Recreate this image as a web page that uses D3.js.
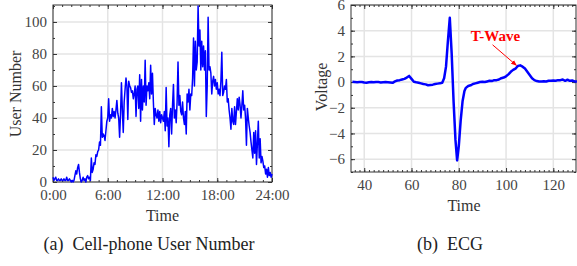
<html>
<head>
<meta charset="utf-8">
<title>Cell-phone users and ECG</title>
<script src="https://d3js.org/d3.v7.min.js"></script>
<style>
  body { margin: 0; background: #fff; }
  svg text { font-family: "Liberation Serif", "Times New Roman", serif; }
</style>
</head>
<body>
<svg id="chart" width="577" height="266"></svg>
<script>
// user count, one value every 0.1 hour from 0:00 to 24:00
const userCounts = [
  3, 1, 2, 3, 1, 1, 2, 1, 1, 2,
  1, 1, 2, 1, 1, 3, 1, 1, 2, 1,
  0, 1, 0, 1, 4, 7, 5, 9, 11, 6,
  2, 0, 1, 3, 1, 2, 0, 3, 4, 2,
  3, 1, 15, 6, 8, 12, 11, 17, 16, 19,
  20, 25, 23, 47, 28, 30, 29, 26, 32, 38,
  40, 52, 38, 42, 40, 46, 41, 44, 40, 45,
  51, 43, 40, 28, 42, 62, 45, 31, 50, 58,
  65, 60, 39, 63, 60, 59, 56, 57, 52, 55,
  60, 41, 58, 60, 46, 67, 38, 64, 45, 60,
  50, 76, 48, 60, 57, 62, 52, 73, 55, 68,
  50, 36, 46, 42, 40, 45, 38, 44, 37, 42,
  40, 38, 44, 32, 59, 35, 40, 22, 42, 46,
  30, 48, 61, 40, 45, 37, 50, 75, 48, 54,
  44, 42, 50, 40, 36, 44, 30, 55, 50, 58,
  45, 55, 54, 65, 90, 60, 88, 70, 75, 110,
  85, 95, 70, 88, 72, 85, 70, 82, 41, 60,
  103, 70, 72, 68, 55, 63, 66, 60, 64, 58,
  62, 55, 58, 54, 63, 81, 54, 56, 60, 58,
  64, 50, 52, 45, 40, 33, 46, 38, 36, 47,
  36, 44, 52, 45, 53, 48, 40, 48, 57, 45,
  48, 40, 23, 46, 40, 35, 31, 25, 20, 15,
  31, 18, 32, 11, 24, 38, 15, 27, 12, 16,
  13, 9, 10, 5, 8, 3, 9, 4, 6, 3,
  5
];
const hourTicks = [0, 6, 12, 18, 24];
const hourLabels = ["0:00", "6:00", "12:00", "18:00", "24:00"];
const userTicks = [0, 20, 40, 60, 80, 100];

// ecg samples
const ecgTime = [
  35, 36, 37, 38, 39, 40, 41, 42, 43, 44, 45, 46, 47, 48, 49, 50, 51, 52,
  53, 54, 55, 56, 57, 58, 59, 60, 61, 62, 63, 64, 65, 66, 67, 68, 69, 70,
  71, 72, 73, 73.8, 74.6, 75.4, 76.2, 77, 77.8, 78.6, 79.3, 80, 80.8, 81.6,
  82.4, 83, 84, 85, 86, 87, 88, 89, 90, 91, 92, 93, 94, 95, 96, 97, 98, 99,
  100, 101, 102, 103, 104, 105, 106, 107, 108, 109, 110, 111, 112, 113, 114,
  115, 116, 117, 118, 119, 120, 121, 122, 123, 124, 125, 126, 127, 128, 129, 130
];
const ecgVolt = [
  0.02, 0, -0.02, 0, 0.01, -0.03, -0.05, -0.02, 0, -0.02, 0.01, 0, -0.03, -0.01, 0, -0.02, -0.04, -0.06,
  0.05, 0.12, 0.15, 0.2, 0.25, 0.35, 0.48, 0.25, 0.02, -0.02, -0.05, -0.1, -0.15, -0.18, -0.25, -0.22, -0.2, -0.15,
  -0.12, -0.1, -0.05, 0.3, 1.2, 3.2, 5.0, 2.2, -1.5, -4.5, -6.1, -5.0, -3.0, -1.5,
  -0.7, -0.45, -0.3, -0.25, -0.15, -0.1, -0.05, 0, 0.02, 0, 0.05, 0.1, 0.08, 0.15, 0.15, 0.2, 0.3, 0.35,
  0.45, 0.6, 0.8, 0.95, 1.05, 1.25, 1.3, 1.2, 1.05, 0.8, 0.55, 0.3, 0.15, 0.08, 0.05,
  0.05, 0.07, 0.05, 0.1, 0.1, 0.12, 0.1, 0.15, 0.15, 0.2, 0.1, 0.18, 0.1, 0.12, 0.05, 0.05
];
const timeTicks = [40, 60, 80, 100, 120];
const voltTicks = [-6, -4, -2, 0, 2, 4, 6];

const svg = d3.select("#chart");

// frame with inward ticks on four sides, light grid at major ticks
function drawFrame(g, x, y, xMajor, xMinor, yMajor, yMinor, xFormat) {
  const [x0, x1] = x.range();
  const [y1, y0] = y.range();

  g.append("g").selectAll("line").data(xMajor).join("line")
    .attr("x1", d => x(d)).attr("x2", d => x(d)).attr("y1", y0).attr("y2", y1)
    .attr("stroke", "#e4e4e4").attr("stroke-width", 1.5);
  g.append("g").selectAll("line").data(yMajor).join("line")
    .attr("y1", d => y(d)).attr("y2", d => y(d)).attr("x1", x0).attr("x2", x1)
    .attr("stroke", "#e4e4e4").attr("stroke-width", 1.5);

  const sides = [
    [d3.axisBottom, y1, x, xMajor, xMinor, xFormat],
    [d3.axisTop, y0, x, xMajor, xMinor, () => ""],
    [d3.axisLeft, x0, y, yMajor, yMinor, d3.format("d")],
    [d3.axisRight, x1, y, yMajor, yMinor, () => ""]
  ];
  sides.forEach(([axisFn, pos, scale, major, minor, fmt]) => {
    const vertical = axisFn === d3.axisLeft || axisFn === d3.axisRight;
    const tr = vertical ? `translate(${pos},0)` : `translate(0,${pos})`;
    g.append("g").attr("transform", tr)
      .call(axisFn(scale).tickValues(minor).tickSize(-2).tickFormat(""))
      .call(a => a.select(".domain").remove())
      .selectAll("line").attr("stroke", "#333");
    const ax = g.append("g").attr("transform", tr)
      .call(axisFn(scale).tickValues(major).tickSize(-4).tickPadding(vertical ? 6 : 7).tickFormat(fmt));
    ax.select(".domain").remove();
    ax.selectAll("line").attr("stroke", "#333");
    ax.selectAll("text").attr("fill", "#444").style("font-size", "15px")
      .style("font-family", "'Liberation Serif', serif");
  });

  g.append("rect").attr("x", x0).attr("y", y0)
    .attr("width", x1 - x0).attr("height", y1 - y0)
    .attr("fill", "none").attr("stroke", "#333").attr("stroke-width", 1);
}

// ---- (a) cell-phone users ----
const xa = d3.scaleLinear().domain([0, 24]).range([53, 272]);
const ya = d3.scaleLinear().domain([0, 110.6]).range([182, 5]);
const ga = svg.append("g");
drawFrame(ga, xa, ya, hourTicks, d3.range(0, 25, 1), userTicks, d3.range(0, 111, 10),
  d => hourLabels[hourTicks.indexOf(d)]);

ga.append("path")
  .datum(userCounts)
  .attr("fill", "none").attr("stroke", "#0000ff").attr("stroke-width", 1.5)
  .attr("stroke-linejoin", "round")
  .attr("d", d3.line().x((d, i) => xa(i * 0.1)).y(d => ya(d)));

ga.append("text").attr("x", 162.5).attr("y", 221).attr("text-anchor", "middle")
  .attr("fill", "#333").style("font-size", "16px").text("Time");
ga.append("text").attr("transform", "translate(21,94) rotate(-90)").attr("text-anchor", "middle")
  .attr("fill", "#333").style("font-size", "16px").text("User Number");
svg.append("text").attr("x", 149).attr("y", 250).attr("text-anchor", "middle")
  .attr("fill", "#222").style("font-size", "18px").attr("xml:space", "preserve")
  .text("(a)  Cell-phone User Number");

// ---- (b) ECG ----
const xb = d3.scaleLinear().domain([34.4, 129.6]).range([351, 576]);
const yb = d3.scaleLinear().domain([-7, 6]).range([172, 5]);
const gb = svg.append("g");
drawFrame(gb, xb, yb, timeTicks, d3.range(36, 130, 2), voltTicks, d3.range(-7, 7, 1), d3.format("d"));

gb.append("path")
  .datum(ecgTime.map((t, i) => [t, ecgVolt[i]]))
  .attr("fill", "none").attr("stroke", "#0000ff").attr("stroke-width", 2.5)
  .attr("stroke-linejoin", "round")
  .attr("d", d3.line().x(d => xb(d[0])).y(d => yb(d[1])));

// T-wave annotation
svg.append("defs").append("marker")
  .attr("id", "arrow").attr("viewBox", "0 0 10 10").attr("refX", 9).attr("refY", 5)
  .attr("markerWidth", 6).attr("markerHeight", 6).attr("orient", "auto")
  .append("path").attr("d", "M0,1 L10,5 L0,9 Z").attr("fill", "#ff0000");
gb.append("line")
  .attr("x1", xb(94.3)).attr("y1", yb(2.9)).attr("x2", xb(104.4)).attr("y2", yb(1.3))
  .attr("stroke", "#ff0000").attr("stroke-width", 1).attr("marker-end", "url(#arrow)");
gb.append("text").attr("x", xb(95.5)).attr("y", yb(3.2)).attr("text-anchor", "middle")
  .attr("fill", "#ff0000").style("font-size", "15px").style("font-weight", "bold").text("T-Wave");

gb.append("text").attr("x", 464).attr("y", 211).attr("text-anchor", "middle")
  .attr("fill", "#333").style("font-size", "16px").text("Time");
gb.append("text").attr("transform", "translate(327,87) rotate(-90)").attr("text-anchor", "middle")
  .attr("fill", "#333").style("font-size", "16px").text("Voltage");
svg.append("text").attr("x", 450).attr("y", 250).attr("text-anchor", "middle")
  .attr("fill", "#222").style("font-size", "18px").attr("xml:space", "preserve")
  .text("(b)  ECG");
</script>
</body>
</html>
